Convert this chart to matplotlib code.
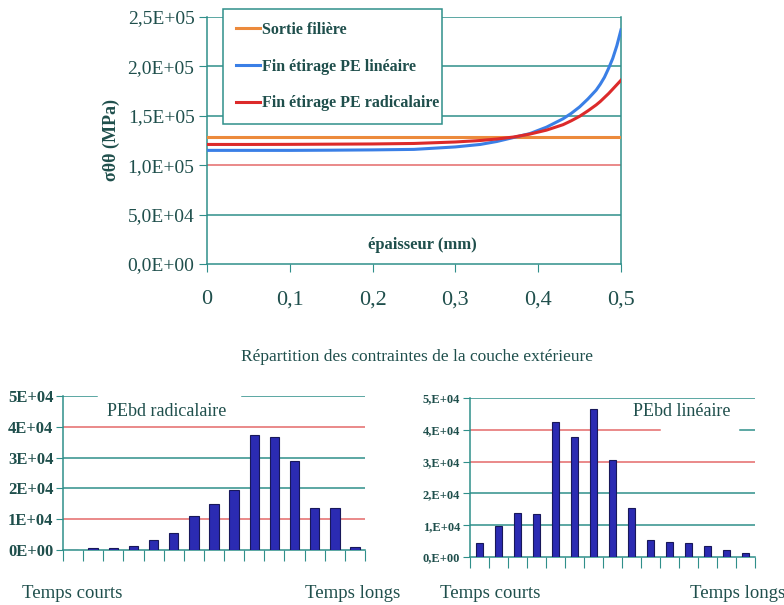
import matplotlib
matplotlib.use("Agg")
import matplotlib.pyplot as plt

plt.rcParams['font.family'] = ['Liberation Serif', 'DejaVu Serif']

# ---- data -------------------------------------------------------------
epaisseur = [0, 0.05, 0.1, 0.15, 0.2, 0.25, 0.3, 0.33, 0.35, 0.37, 0.39,
             0.41, 0.43, 0.44, 0.45, 0.46, 0.47, 0.475, 0.48, 0.485, 0.49,
             0.495, 0.5]
sortie_filiere = [1.29e5] * len(epaisseur)
pe_lineaire = [1.15e5, 1.15e5, 1.15e5, 1.152e5, 1.155e5, 1.16e5, 1.185e5,
               1.21e5, 1.24e5, 1.28e5, 1.32e5, 1.385e5, 1.47e5, 1.525e5,
               1.59e5, 1.67e5, 1.76e5, 1.82e5, 1.89e5, 1.98e5, 2.08e5,
               2.21e5, 2.37e5]
pe_radicalaire = [1.21e5, 1.21e5, 1.211e5, 1.213e5, 1.215e5, 1.22e5, 1.235e5,
                  1.25e5, 1.265e5, 1.285e5, 1.315e5, 1.355e5, 1.41e5, 1.45e5,
                  1.495e5, 1.55e5, 1.61e5, 1.645e5, 1.685e5, 1.725e5, 1.77e5,
                  1.815e5, 1.86e5]
legend_labels = ['Sortie filière', 'Fin étirage PE linéaire',
                 'Fin étirage PE radicalaire']

top_yticks = [0, 5e4, 1e5, 1.5e5, 2e5, 2.5e5]
top_yticklabels = ['0,0E+00', '5,0E+04', '1,0E+05', '1,5E+05', '2,0E+05', '2,5E+05']
top_xticks = [0, 0.1, 0.2, 0.3, 0.4, 0.5]
top_xticklabels = ['0', '0,1', '0,2', '0,3', '0,4', '0,5']

radicalaire = [0, 500, 500, 1300, 3100, 5500, 11000, 15000, 19600,
               37300, 36600, 29000, 13500, 13500, 900]
lineaire = [4400, 9800, 13900, 13500, 42300, 37800, 46400, 30500,
            15300, 5200, 4600, 4300, 3400, 2200, 1200]

bot_yticks = [0, 1e4, 2e4, 3e4, 4e4, 5e4]
rad_yticklabels = ['0E+00', '1E+04', '2E+04', '3E+04', '4E+04', '5E+04']
lin_yticklabels = ['0,E+00', '1,E+04', '2,E+04', '3,E+04', '4,E+04', '5,E+04']

# ---- style ------------------------------------------------------------
W, H = 784, 605
TEAL = '#2f8f8a'
PINK = '#e46a6a'
TXT = '#1f4f4c'
BAR = '#2b2bb2'


def box(x0, y0, x1, y1):
    return [x0 / W, 1 - y1 / H, (x1 - x0) / W, (y1 - y0) / H]


def ftext(x, y, s, **kw):
    fig.text(x / W, 1 - y / H, s, color=TXT, **kw)


fig = plt.figure(figsize=(W / 100, H / 100), dpi=100)

# ---- top chart --------------------------------------------------------
ax = fig.add_axes(box(207, 17, 621, 264))
top_grid_colors = [TEAL, PINK, TEAL, TEAL, TEAL]
for lvl, c in zip(top_yticks[1:], top_grid_colors):
    ax.axhline(lvl, color=c, lw=1.1, zorder=1)
l1, = ax.plot(epaisseur, sortie_filiere, color='#ec8a3c', lw=2.2, zorder=3)
l2, = ax.plot(epaisseur, pe_lineaire, color='#3a7fe6', lw=2.2, zorder=3)
l3, = ax.plot(epaisseur, pe_radicalaire, color='#dc2a2a', lw=2.2, zorder=3)
ax.set_xlim(0, 0.5)
ax.set_ylim(0, 2.5e5)
ax.set_xticks(top_xticks)
ax.set_xticklabels(top_xticklabels, fontsize=16, color=TXT)
ax.set_yticks(top_yticks)
ax.set_yticklabels(top_yticklabels, fontsize=14, color=TXT)
ax.tick_params(axis='x', direction='out', length=6, color=TEAL, pad=13)
ax.tick_params(axis='y', direction='out', length=6, color=TEAL, pad=3)
ax.spines['top'].set_visible(False)
for side in ['left', 'bottom', 'right']:
    ax.spines[side].set_color(TEAL)
    ax.spines[side].set_linewidth(1.1)

leg = fig.legend([l1, l2, l3], legend_labels, loc='upper left',
                 bbox_to_anchor=(223 / W, 1 - 126 / H, 219 / W, 117 / H),
                 mode='expand', frameon=True, fancybox=False,
                 prop={'weight': 'bold', 'size': 11.5},
                 handlelength=1.5, handletextpad=0.15, labelspacing=1.3,
                 borderpad=0.8, borderaxespad=0)
leg.get_frame().set_edgecolor(TEAL)
leg.get_frame().set_linewidth(1.1)
leg.get_frame().set_alpha(1)
for t in leg.get_texts():
    t.set_color(TXT)

ftext(422, 245, 'épaisseur (mm)', fontsize=12, fontweight='bold',
      ha='center', va='center')
ftext(111, 140, 'σθθ (MPa)', fontsize=13, fontweight='bold',
      ha='center', va='center', rotation=90)

ftext(417, 357, 'Répartition des contraintes de la couche extérieure',
      fontsize=12.5, ha='center', va='center')


# ---- bottom charts ----------------------------------------------------
def bar_chart(rect, values, labels, label_size, grid, width):
    a = fig.add_axes(rect)
    n = len(values)
    for lvl, c, x0, x1 in grid:
        a.axhline(lvl, xmin=x0, xmax=x1, color=c, lw=1.1, zorder=1)
    a.bar(range(n), values, width=width, color=BAR, edgecolor='#18185a',
          linewidth=0.8, zorder=3)
    a.set_xlim(-0.5, n - 0.5)
    a.set_ylim(0, 5e4)
    a.set_xticks([i - 0.5 for i in range(n + 1)])
    a.set_xticklabels([])
    a.set_yticks(bot_yticks)
    a.set_yticklabels(labels, fontsize=label_size, fontweight='bold', color=TXT)
    a.tick_params(axis='x', direction='out', length=8, color=TEAL)
    a.tick_params(axis='y', direction='out', length=5, color=TEAL, pad=2)
    for side in ['top', 'right']:
        a.spines[side].set_visible(False)
    for side in ['left', 'bottom']:
        a.spines[side].set_color(TEAL)
        a.spines[side].set_linewidth(1.1)
    return a


rad_grid = [(1e4, PINK, 0, 1), (2e4, TEAL, 0, 1), (3e4, TEAL, 0, 1),
            (4e4, PINK, 0, 1), (5e4, TEAL, 0, 0.113), (5e4, TEAL, 0.593, 1)]
bar_chart(box(63, 396, 365, 550), radicalaire, rad_yticklabels, 12,
          rad_grid, 0.47)

lin_grid = [(1e4, TEAL, 0, 1), (2e4, TEAL, 0, 1), (3e4, PINK, 0, 1),
            (4e4, PINK, 0, 0.667), (4e4, TEAL, 0.947, 1), (5e4, TEAL, 0, 1)]
bar_chart(box(470, 398, 755, 557), lineaire, lin_yticklabels, 9,
          lin_grid, 0.42)

ftext(107, 412, 'PEbd radicalaire', fontsize=13, ha='left', va='center')
ftext(633, 411, 'PEbd linéaire', fontsize=13, ha='left', va='center')
ftext(22, 593, 'Temps courts', fontsize=13.5, ha='left', va='center')
ftext(305, 593, 'Temps longs', fontsize=13.5, ha='left', va='center')
ftext(440, 593, 'Temps courts', fontsize=13.5, ha='left', va='center')
ftext(690, 593, 'Temps longs', fontsize=13.5, ha='left', va='center')

fig.savefig('out.png', dpi=100)
